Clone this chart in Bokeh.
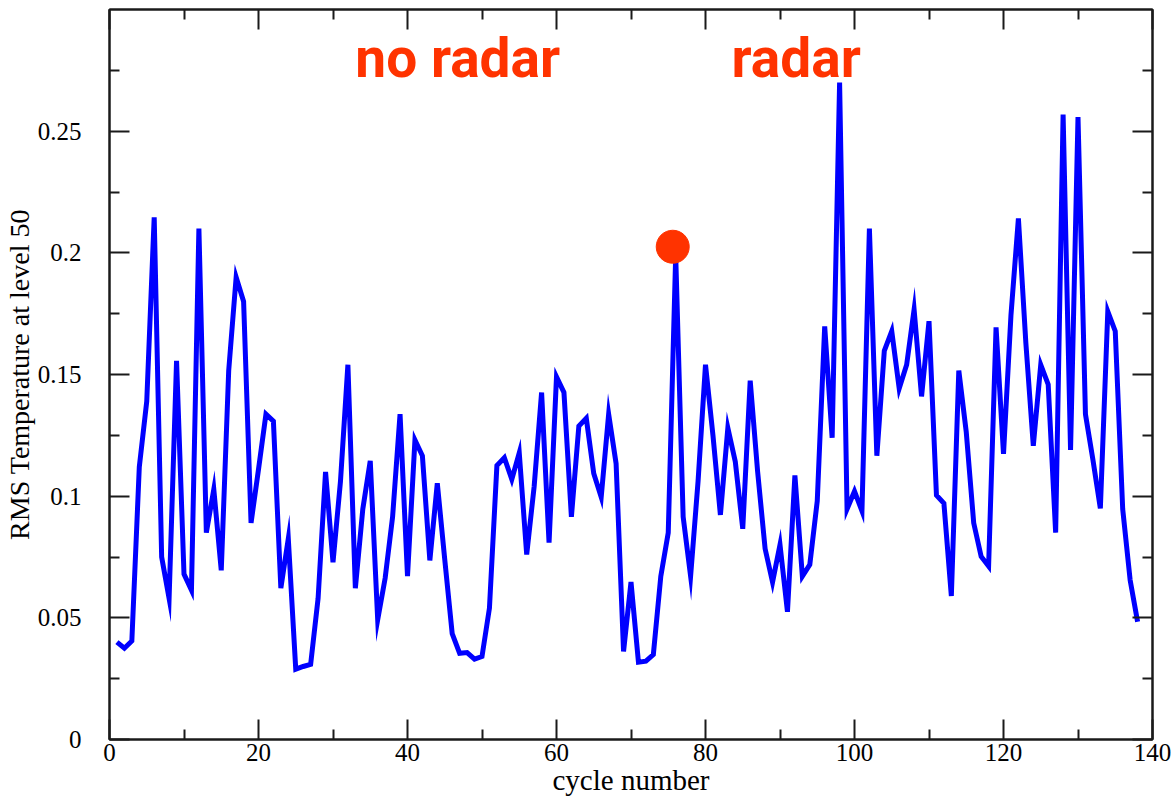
from bokeh.plotting import figure
from bokeh.models import (Range1d, FixedTicker, LinearAxis, ColumnDataSource,
                          CustomLabelingPolicy)
from bokeh.embed import file_html
from bokeh.resources import INLINE
from bokeh.core.properties import value

# ---- data -------------------------------------------------------------
cycles = list(range(1, 139))
rms_temp = [
    0.040, 0.0375, 0.0405, 0.112, 0.139, 0.2146, 0.075, 0.058, 0.1556, 0.068,
    0.0614, 0.210, 0.085, 0.1028, 0.0695, 0.1516, 0.190, 0.180, 0.089, 0.111,
    0.1337, 0.1308, 0.0622, 0.0825, 0.0289, 0.030, 0.0309, 0.058, 0.110, 0.0728,
    0.106, 0.154, 0.0622, 0.0947, 0.1145, 0.0492, 0.0663, 0.0915, 0.1337, 0.0671,
    0.1231, 0.1166, 0.0736, 0.1053, 0.074, 0.0435, 0.0354, 0.0357, 0.033, 0.0341,
    0.054, 0.1126, 0.1158, 0.1069, 0.1178, 0.076, 0.104, 0.1426, 0.0809, 0.149,
    0.1426, 0.0915, 0.1288, 0.132, 0.1093, 0.0996, 0.1337, 0.1134, 0.0362, 0.0647,
    0.0318, 0.0322, 0.0349, 0.0671, 0.085, 0.199, 0.0915, 0.0671, 0.106, 0.154,
    0.125, 0.0923, 0.128, 0.1142, 0.0866, 0.1475, 0.110, 0.0784, 0.0647, 0.080,
    0.0525, 0.1085, 0.0671, 0.0719, 0.098, 0.1698, 0.124, 0.270, 0.0947, 0.102,
    0.0939, 0.210, 0.1166, 0.1597, 0.1678, 0.1443, 0.154, 0.1767, 0.141, 0.1719,
    0.1004, 0.0971, 0.059, 0.1516, 0.1264, 0.089, 0.0752, 0.0712, 0.1694, 0.1174,
    0.1743, 0.2141, 0.163, 0.1207, 0.154, 0.1459, 0.085, 0.2568, 0.119, 0.2558,
    0.1337, 0.115, 0.095, 0.1759, 0.1678, 0.0947, 0.0655, 0.0484,
]

x_ticks = [0, 20, 40, 60, 80, 100, 120, 140]
x_minor_ticks = [10, 30, 50, 70, 90, 110, 130]
x_tick_labels = ["0", "20", "40", "60", "80", "100", "120", "140"]
y_ticks = [0, 0.05, 0.1, 0.15, 0.2, 0.25]
y_minor_ticks = [0.025, 0.075, 0.125, 0.175, 0.225, 0.275]
y_tick_labels = ["0", "0.05", "0.1", "0.15", "0.2", "0.25"]

highlight_cycle = [75.6]
highlight_value = [0.2025]

period_labels = ["no radar", "radar"]
period_label_cycle = [33.0, 83.5]
period_label_value = [0.280, 0.280]

x_title = "cycle number"
y_title = "RMS Temperature at level 50"

# ---- styles -----------------------------------------------------------
SERIF = "Liberation Serif"
RED = "#FF3300"
AXIS_COLOR = "#1a1a1a"

p = figure(
    width=1176, height=806,
    x_range=Range1d(0, 140), y_range=Range1d(0, 0.3),
    output_backend="svg", toolbar_location=None,
    min_border_left=109, min_border_right=24,
    min_border_top=9, min_border_bottom=67,
)
p.background_fill_color = "white"
p.border_fill_color = "white"
p.grid.visible = False
p.outline_line_color = AXIS_COLOR
p.outline_line_width = 2

line_src = ColumnDataSource(dict(x=cycles, y=rms_temp))
p.line("x", "y", source=line_src, line_color="#0000FF", line_width=5,
       line_join="miter")

p.scatter(highlight_cycle, highlight_value, size=33, color=RED,
          line_color=RED)

lab_src = ColumnDataSource(dict(x=period_label_cycle, y=period_label_value,
                                t=period_labels))
p.text("x", "y", text="t", source=lab_src, text_color=RED,
       text_font=value("Roboto"), text_font_style="bold",
       text_font_size="55px", text_align="left", text_baseline="alphabetic")

NO_LABELS = CustomLabelingPolicy(
    code="for (const i of Array.from(indices)) indices.unset(i); return indices")


def style_axis(ax, ticks, minor, labels=None, show_labels=True):
    ax.ticker = FixedTicker(ticks=ticks, minor_ticks=minor)
    ax.axis_line_color = AXIS_COLOR
    ax.axis_line_width = 2
    ax.major_tick_line_color = AXIS_COLOR
    ax.minor_tick_line_color = AXIS_COLOR
    ax.major_tick_line_width = 2
    ax.minor_tick_line_width = 2
    ax.major_tick_in = 20
    ax.major_tick_out = 0
    ax.minor_tick_in = 10
    ax.minor_tick_out = 0
    if show_labels:
        ax.major_label_overrides = {t: l for t, l in zip(ticks, labels)}
        ax.major_label_text_font = SERIF
        ax.major_label_text_font_size = "25px"
        ax.major_label_text_color = "black"
        ax.axis_label_text_font = SERIF
        ax.axis_label_text_font_style = "normal"
        ax.axis_label_text_color = "black"
    else:
        ax.major_label_policy = NO_LABELS
        ax.major_label_text_font_size = "0px"
        ax.major_label_standoff = 0


xa = p.xaxis[0]
style_axis(xa, x_ticks, x_minor_ticks, x_tick_labels)
xa.axis_label = x_title
xa.axis_label_text_font_size = "29px"
xa.major_label_standoff = 4
xa.axis_label_standoff = 0

ya = p.yaxis[0]
style_axis(ya, y_ticks, y_minor_ticks, y_tick_labels)
ya.axis_label = y_title
ya.axis_label_text_font_size = "28px"
ya.major_label_standoff = 28
ya.axis_label_standoff = 0

top_ax = LinearAxis()
style_axis(top_ax, x_ticks, x_minor_ticks, show_labels=False)
p.add_layout(top_ax, "above")

right_ax = LinearAxis()
style_axis(right_ax, y_ticks, y_minor_ticks, show_labels=False)
p.add_layout(right_ax, "right")

open("out.html", "w").write(file_html(p, INLINE))
